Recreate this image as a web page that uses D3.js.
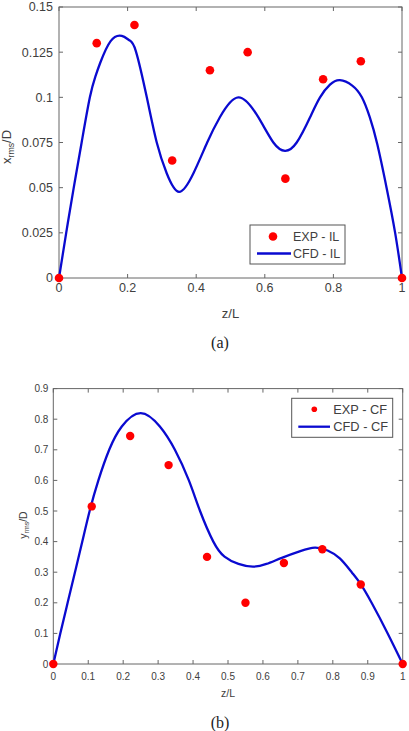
<!DOCTYPE html>
<html>
<head>
<meta charset="utf-8">
<script src="https://cdn.jsdelivr.net/npm/d3@7"></script>
<style>
  body { margin: 0; background: #fff; }
  svg { display: block; font-family: "Liberation Sans", Arial, sans-serif; }
  .tick-label { fill: #404040; }
  .caption { font-family: "Liberation Serif", "Times New Roman", serif; fill: #222; }
</style>
</head>
<body>
<div id="chart"></div>
<script>
// figure: two panels, (a) in-line and (b) cross-flow rms amplitude

// (a) experiment points, IL
const expIL_z = [0, 0.11, 0.22, 0.33, 0.44, 0.55, 0.66, 0.77, 0.88, 1];
const expIL_v = [0, 0.13, 0.14, 0.065, 0.115, 0.125, 0.055, 0.11, 0.12, 0];

// (a) CFD curve, IL
const cfdIL_z = [0, 0.021, 0.043, 0.066, 0.09, 0.106, 0.12, 0.15, 0.183, 0.205, 0.224, 0.256, 0.285, 0.314, 0.35,
  0.392, 0.432, 0.469, 0.523, 0.581, 0.625, 0.659, 0.693, 0.732, 0.761, 0.79, 0.819, 0.855, 0.883,
  0.906, 0.928, 0.955, 0.98, 1];
const cfdIL_v = [0, 0.025, 0.05, 0.075, 0.1, 0.1115, 0.119, 0.131, 0.134, 0.1316, 0.1256, 0.1, 0.075, 0.058, 0.0477,
  0.058, 0.075, 0.089, 0.1, 0.089, 0.075, 0.0704, 0.075, 0.089, 0.1, 0.107, 0.1095, 0.1065, 0.1,
  0.089, 0.074, 0.05, 0.025, 0];

// (b) experiment points, CF
const expCF_z = [0, 0.11, 0.22, 0.33, 0.44, 0.55, 0.66, 0.77, 0.88, 1];
const expCF_v = [0, 0.515, 0.745, 0.65, 0.35, 0.2, 0.33, 0.375, 0.26, 0];

// (b) CFD curve, CF
const cfdCF_z = [0, 0.02, 0.041, 0.062, 0.083, 0.104, 0.129, 0.16, 0.196, 0.25, 0.305, 0.348, 0.388,
  0.42, 0.458, 0.49, 0.53, 0.572, 0.61, 0.654, 0.707, 0.749, 0.785, 0.82, 0.854, 0.878, 0.911, 0.957, 1];
const cfdCF_v = [0, 0.1, 0.2, 0.3, 0.4, 0.5, 0.6, 0.7, 0.776, 0.82, 0.776, 0.7, 0.6,
  0.5, 0.4, 0.351, 0.327, 0.318, 0.327, 0.347, 0.369, 0.38, 0.371, 0.345, 0.3, 0.264, 0.2, 0.1, 0];

// tick values
const ticksIL_x = [0, 0.2, 0.4, 0.6, 0.8, 1];
const ticksIL_y = [0, 0.025, 0.05, 0.075, 0.1, 0.125, 0.15];
const ticksCF_x = [0, 0.1, 0.2, 0.3, 0.4, 0.5, 0.6, 0.7, 0.8, 0.9, 1];
const ticksCF_y = [0, 0.1, 0.2, 0.3, 0.4, 0.5, 0.6, 0.7, 0.8, 0.9];

const legendIL = ["EXP - IL", "CFD - IL"];
const legendCF = ["EXP - CF", "CFD - CF"];

const W = 409, H = 731;
const axisColor = "#666";
const dotColor = "#ff0000";
const lineColor = "#0a0ad0";

const svg = d3.select("#chart").append("svg")
    .attr("width", W)
    .attr("height", H);

const fmt = d => String(+d.toFixed(3));

function drawPanel(p) {
    const x = d3.scaleLinear().domain([0, 1]).range([p.left, p.right]);
    const y = d3.scaleLinear().domain([0, p.ymax]).range([p.bottom, p.top]);
    const g = svg.append("g");

    // ticks (inside, all four sides)
    const tl = 4;
    p.xticks.forEach(t => {
        g.append("line").attr("x1", x(t)).attr("x2", x(t)).attr("y1", p.bottom).attr("y2", p.bottom - tl)
            .attr("stroke", axisColor);
        g.append("line").attr("x1", x(t)).attr("x2", x(t)).attr("y1", p.top).attr("y2", p.top + tl)
            .attr("stroke", axisColor);
        g.append("text").attr("class", "tick-label")
            .attr("x", x(t)).attr("y", p.bottom + p.xLabelDy)
            .attr("text-anchor", "middle")
            .attr("font-size", p.fs)
            .text(fmt(t));
    });
    p.yticks.forEach(t => {
        g.append("line").attr("x1", p.left).attr("x2", p.left + tl).attr("y1", y(t)).attr("y2", y(t))
            .attr("stroke", axisColor);
        g.append("line").attr("x1", p.right).attr("x2", p.right - tl).attr("y1", y(t)).attr("y2", y(t))
            .attr("stroke", axisColor);
        g.append("text").attr("class", "tick-label")
            .attr("x", p.left - p.yLabelDx).attr("y", y(t))
            .attr("dy", "0.35em")
            .attr("text-anchor", "end")
            .attr("font-size", p.fs)
            .text(fmt(t));
    });

    // box
    g.append("rect")
        .attr("x", p.left).attr("y", p.top)
        .attr("width", p.right - p.left).attr("height", p.bottom - p.top)
        .attr("fill", "none").attr("stroke", axisColor);

    // CFD curve
    const line = d3.line()
        .x((d, i) => x(p.cz[i]))
        .y(d => y(d))
        .curve(d3.curveNatural);
    g.append("path")
        .datum(p.cv)
        .attr("d", line)
        .attr("fill", "none")
        .attr("stroke", lineColor)
        .attr("stroke-width", 2.3);

    // experiment points
    g.selectAll(".dot").data(p.ev).enter().append("circle")
        .attr("cx", (d, i) => x(p.ez[i]))
        .attr("cy", d => y(d))
        .attr("r", p.r)
        .attr("fill", dotColor);

    // axis labels
    g.append("text").attr("class", "tick-label")
        .attr("x", (p.left + p.right) / 2).attr("y", p.xTitleY)
        .attr("text-anchor", "middle")
        .attr("font-size", p.fs + 0.5)
        .text("z/L");

    const yl = g.append("text").attr("class", "tick-label")
        .attr("transform", `translate(${p.yTitleX},${p.yTitleY}) rotate(-90)`)
        .attr("text-anchor", "middle")
        .attr("font-size", p.fs + 0.5);
    yl.append("tspan").text(p.yvar);
    yl.append("tspan").attr("font-size", p.fs * 0.7).attr("dy", "0.35em").text("rms");
    yl.append("tspan").attr("dy", "-0.25em").text("/D");

    // caption
    svg.append("text").attr("class", "caption")
        .attr("x", 220).attr("y", p.captionY)
        .attr("text-anchor", "middle")
        .attr("font-size", 16)
        .text(p.caption);

    // legend
    const L = p.legend;
    g.append("rect")
        .attr("x", L.x).attr("y", L.y).attr("width", L.w).attr("height", L.h)
        .attr("fill", "#fff").attr("stroke", "#555");
    g.append("circle").attr("cx", L.x + L.dotDx).attr("cy", L.y + L.row1)
        .attr("r", L.r).attr("fill", dotColor);
    g.append("line")
        .attr("x1", L.x + L.lineX1).attr("x2", L.x + L.lineX2)
        .attr("y1", L.y + L.row2).attr("y2", L.y + L.row2)
        .attr("stroke", lineColor).attr("stroke-width", 2.3);
    [L.row1, L.row2].forEach((ry, i) => {
        g.append("text").attr("class", "tick-label")
            .attr("x", L.x + L.textDx).attr("y", L.y + ry)
            .attr("dy", "0.35em")
            .attr("font-size", L.fs)
            .text(p.legendText[i]);
    });
}

drawPanel({
    left: 59, right: 402, top: 7, bottom: 278, ymax: 0.15,
    xticks: ticksIL_x, yticks: ticksIL_y,
    fs: 12.5, xLabelDy: 14, yLabelDx: 6,
    ez: expIL_z, ev: expIL_v, cz: cfdIL_z, cv: cfdIL_v, r: 4.3,
    xTitleY: 318, yTitleX: 11, yTitleY: 147, yvar: "x",
    caption: "(a)", captionY: 348,
    legendText: legendIL,
    legend: { x: 250, y: 225, w: 95, h: 39, dotDx: 23, row1: 11.5, row2: 28.5, r: 4.3,
              lineX1: 7, lineX2: 41, textDx: 43, fs: 12.5 }
});

drawPanel({
    left: 53.3, right: 402.7, top: 388.6, bottom: 664, ymax: 0.9,
    xticks: ticksCF_x, yticks: ticksCF_y,
    fs: 10, xLabelDy: 16, yLabelDx: 5,
    ez: expCF_z, ev: expCF_v, cz: cfdCF_z, cv: cfdCF_v, r: 4.2,
    xTitleY: 697, yTitleX: 27, yTitleY: 525, yvar: "y",
    caption: "(b)", captionY: 728,
    legendText: legendCF,
    legend: { x: 291.7, y: 398.3, w: 101, h: 39, dotDx: 22.6, row1: 11, row2: 28.4, r: 2.8,
              lineX1: 6.6, lineX2: 38.3, textDx: 41.6, fs: 12.8 }
});
</script>
</body>
</html>
